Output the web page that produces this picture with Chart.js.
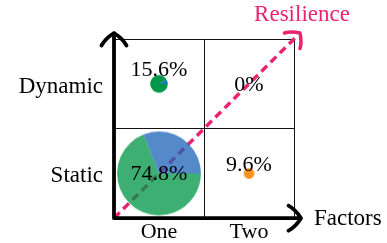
<!DOCTYPE html>
<html>
<head>
<meta charset="utf-8">
<script src="https://cdn.jsdelivr.net/npm/chart.js@4.4.1/dist/chart.umd.min.js"></script>
<style>
  html, body { margin: 0; padding: 0; background: #fff; }
  #wrap { width: 387px; height: 243px; }
</style>
</head>
<body>
<div id="wrap"><canvas id="chart" width="387" height="243"></canvas></div>
<script>
// ---- data ----
const xCats = ['One', 'Two'];
const yCats = ['Dynamic', 'Static'];          // top to bottom
const cellX = ['One', 'Two', 'One', 'Two'];
const cellY = ['Dynamic', 'Dynamic', 'Static', 'Static'];
const shares = [15.6, 0, 74.8, 9.6];          // percent in each cell
const blueShares = [0.07, 0, 0.31, 0];        // part of each circle that is blue
const xTitle = 'Factors';
const arrowTitle = 'Resilience';

// ---- styles ----
const FONT = '"Liberation Serif", "DejaVu Serif", serif';
const PX_PER_PCT = 0.56;
const mainColors = ['rgb(0,152,72)', 'rgb(0,152,72)', 'rgba(0,150,70,0.76)', 'rgb(247,148,30)'];
const blueColors = ['rgb(30,110,200)', 'rgb(30,110,200)', 'rgba(30,100,185,0.76)', 'rgb(30,110,200)'];
const PINK = '#ea2470';

// each cell's circle is a little pie drawn into its own canvas and used as point style
function pieImage(i) {
  const r = shares[i] * PX_PER_PCT;
  const size = Math.max(2, Math.ceil(r * 2) + 2);
  const c = document.createElement('canvas');
  c.width = size; c.height = size;
  if (r <= 0) return c;
  const g = c.getContext('2d');
  const cx = size / 2, cy = size / 2;
  const t = 2 * Math.PI * blueShares[i];
  g.fillStyle = mainColors[i];
  g.beginPath();
  g.moveTo(cx, cy);
  if (t > 0) g.arc(cx, cy, r, -t, 0, true);
  else g.arc(cx, cy, r, 0, 2 * Math.PI);
  g.closePath();
  g.fill();
  if (t > 0) {
    g.fillStyle = blueColors[i];
    g.beginPath();
    g.moveTo(cx, cy);
    g.arc(cx, cy, r, 0, -t, true);
    g.closePath();
    g.fill();
  }
  return c;
}

// curved "to" style arrow tip, pointing along angle a
function arrowTip(ctx, x, y, a, size) {
  ctx.save();
  ctx.translate(x, y);
  ctx.rotate(a);
  ctx.beginPath();
  ctx.moveTo(-size, -size);
  ctx.quadraticCurveTo(-size * 0.45, -size * 0.7, 0, 0);
  ctx.quadraticCurveTo(-size * 0.45, size * 0.7, -size, size);
  ctx.stroke();
  ctx.restore();
}

const decor = {
  id: 'decor',
  beforeDatasetsDraw(chart) {
    const { ctx, chartArea: a } = chart;
    // dashed resilience arrow, under the circles
    const ex = a.right + 6, ey = a.top - 6;
    ctx.save();
    ctx.strokeStyle = PINK;
    ctx.lineWidth = 3.5;
    ctx.setLineDash([8, 5]);
    ctx.beginPath();
    ctx.moveTo(a.left, a.bottom);
    ctx.lineTo(ex - 2, ey + 2);
    ctx.stroke();
    ctx.setLineDash([]);
    ctx.lineCap = 'round';
    ctx.lineJoin = 'round';
    arrowTip(ctx, ex, ey, -Math.PI / 4, 11);
    ctx.restore();
  },
  afterDatasetsDraw(chart) {
    const { ctx } = chart;
    const meta = chart.getDatasetMeta(0);
    ctx.save();
    ctx.fillStyle = '#000';
    ctx.font = '22px ' + FONT;
    ctx.textAlign = 'center';
    ctx.textBaseline = 'middle';
    meta.data.forEach((el, i) => {
      const r = shares[i] * PX_PER_PCT;
      const dy = r > 0 && r < 20 ? -1.7 * r : 0;
      ctx.fillText(shares[i] + '%', el.x, el.y + dy + 1);
    });
    ctx.restore();
  },
  afterDraw(chart) {
    const { ctx, chartArea: a } = chart;
    ctx.save();
    ctx.strokeStyle = '#000';
    ctx.lineWidth = 3.8;
    ctx.lineCap = 'round';
    ctx.lineJoin = 'round';
    ctx.beginPath();
    ctx.moveTo(a.left, a.bottom);
    ctx.lineTo(a.left, a.top - 5);
    ctx.moveTo(a.left, a.bottom);
    ctx.lineTo(a.right + 6, a.bottom);
    ctx.stroke();
    arrowTip(ctx, a.left, a.top - 6, -Math.PI / 2, 12.5);
    arrowTip(ctx, a.right + 7, a.bottom, 0, 12.5);

    ctx.font = '23px ' + FONT;
    ctx.fillStyle = '#000';
    ctx.textAlign = 'left';
    ctx.textBaseline = 'alphabetic';
    ctx.fillText(xTitle, a.right + 20, a.bottom + 7);
    ctx.fillStyle = PINK;
    ctx.textAlign = 'center';
    ctx.fillText(arrowTitle, a.right + 8, 21);
    ctx.restore();
  }
};

new Chart(document.getElementById('chart'), {
  type: 'scatter',
  data: {
    labels: xCats,
    datasets: [{
      data: cellX.map((x, i) => ({ x: x, y: cellY[i] })),
      pointStyle: shares.map((s, i) => pieImage(i)),
      pointRadius: 4,
      clip: false
    }]
  },
  options: {
    responsive: false,
    animation: false,
    events: [],
    layout: { padding: { top: 39, right: 93, left: 0, bottom: 0 } },
    plugins: { legend: { display: false }, tooltip: { enabled: false } },
    scales: {
      x: {
        type: 'category',
        labels: xCats,
        offset: true,
        grid: { offset: true, color: '#111', lineWidth: 1, drawTicks: false },
        border: { display: false },
        ticks: { color: '#000', font: { family: FONT, size: 22 }, padding: 1 },
        afterFit: s => { s.height = 22; }
      },
      y: {
        type: 'category',
        labels: yCats,
        offset: true,
        grid: { offset: true, color: '#111', lineWidth: 1, drawTicks: false },
        border: { display: false },
        ticks: { color: '#000', font: { family: FONT, size: 23 }, padding: 11, labelOffset: 3 },
        afterFit: s => { s.width = 114; }
      }
    }
  },
  plugins: [decor]
});
</script>
</body>
</html>
